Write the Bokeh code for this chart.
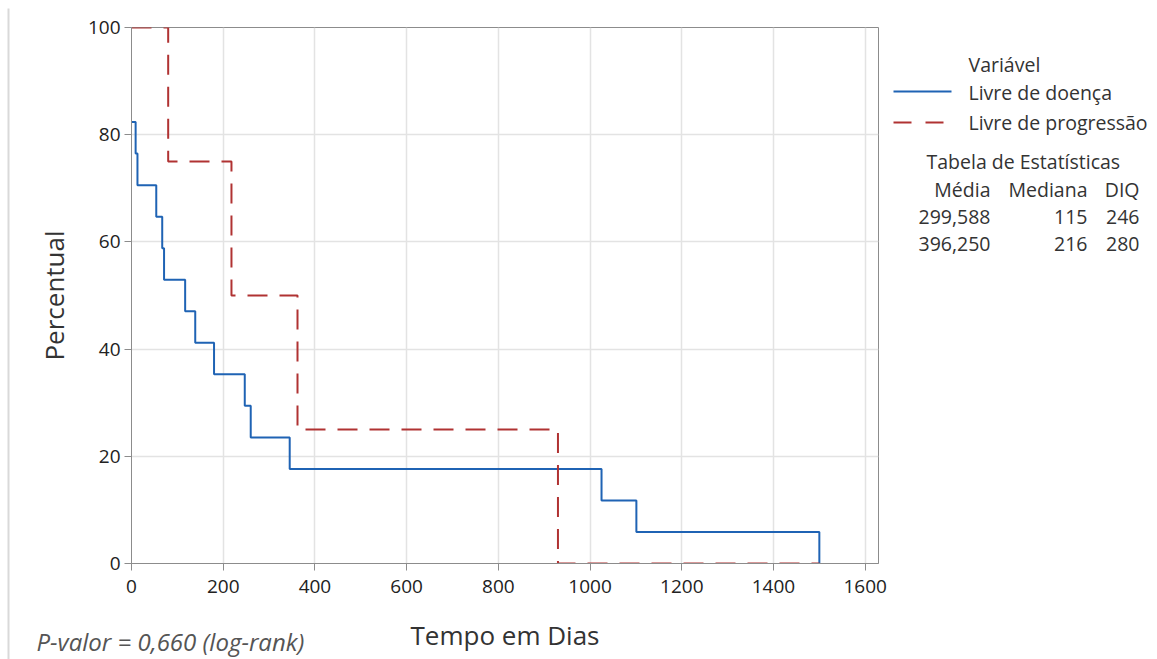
from bokeh.plotting import figure
from bokeh.models import Range1d, FixedTicker, Label
from bokeh.layouts import row, column
from bokeh.embed import file_html
from bokeh.resources import INLINE

# ---- data ----
dfs_days = [0, 9, 13, 54, 67, 71, 117, 139, 180, 247, 260, 345, 1025, 1101, 1500]
dfs_pct = [82.35, 76.47, 70.59, 64.71, 58.82, 52.94, 47.06, 41.18, 35.29, 29.41, 23.53, 17.65, 11.76, 5.88, 0.0]
pfs_days = [0, 80, 218, 362, 930, 1500]
pfs_pct = [100.0, 75.0, 50.0, 25.0, 0.0, 0.0]
series_names = ["Livre de doença", "Livre de progressão"]
legend_title = "Variável"
x_ticks = [0, 200, 400, 600, 800, 1000, 1200, 1400, 1600]
y_ticks = [0, 20, 40, 60, 80, 100]
table_title = "Tabela de Estatísticas"
stat_headers = ["Média", "Mediana", "DIQ"]
stat_rows = [["299,588", "115", "246"], ["396,250", "216", "280"]]
x_label = "Tempo em Dias"
y_label = "Percentual"
p_value_text = "P-valor = 0,660 (log-rank)"

FONT = "Open Sans"
TXT = "#333333"
BLUE = "#1f63b4"
RED = "#b03232"
RED_DASH = "20 12"

W, H = 1157, 659
STRIP_W = 10            # left strip with the thin border line
MAIN_W = 882            # main chart canvas (x 10 .. 892)
MAIN_H = 612
RIGHT_W = W - STRIP_W - MAIN_W
BOTTOM_H = H - MAIN_H
FL, FR, FT, FB = 131, 878, 27, 563   # frame edges in window pixels
XMAX = 1629


def helper_fig(w, h, x0, x1, y0, y1):
    f = figure(width=w, height=h, output_backend="svg", toolbar_location=None,
               x_range=Range1d(x0, x1), y_range=Range1d(y1, y0),
               x_axis_location=None, y_axis_location=None, frame_align=False)
    f.min_border = 0
    f.min_border_left = 0
    f.min_border_right = 0
    f.min_border_top = 0
    f.min_border_bottom = 0
    f.outline_line_color = None
    f.grid.visible = False
    f.background_fill_color = "white"
    f.border_fill_color = "white"
    return f


# ---------------- main chart ----------------
p = figure(width=MAIN_W, height=MAIN_H, output_backend="svg", toolbar_location=None,
           x_range=Range1d(0, XMAX), y_range=Range1d(0, 100), frame_align=False)
p.min_border = 0
p.min_border_left = FL - STRIP_W
p.min_border_right = STRIP_W + MAIN_W - FR
p.min_border_top = FT
p.min_border_bottom = MAIN_H - FB
p.background_fill_color = "white"
p.border_fill_color = "white"
p.outline_line_color = "#8c8c8c"
p.outline_line_width = 1

for ax in (p.xaxis[0], p.yaxis[0]):
    ax.axis_line_color = "#8c8c8c"
    ax.major_tick_line_color = "#8c8c8c"
    ax.major_tick_out = 7
    ax.major_tick_in = 0
    ax.minor_tick_line_color = None
    ax.major_label_text_font = FONT
    ax.major_label_text_font_size = "19px"
    ax.major_label_text_color = "#222222"
    ax.axis_label_text_font = FONT
    ax.axis_label_text_font_style = "normal"
    ax.axis_label_text_font_size = "26px"
    ax.axis_label_text_color = TXT

p.xaxis[0].ticker = FixedTicker(ticks=x_ticks)
p.yaxis[0].ticker = FixedTicker(ticks=y_ticks)
p.yaxis[0].axis_label = y_label
p.xaxis[0].major_label_standoff = 9
p.yaxis[0].major_label_standoff = 4
p.yaxis[0].axis_label_standoff = 13

p.xgrid[0].ticker = FixedTicker(ticks=x_ticks)
p.ygrid[0].ticker = FixedTicker(ticks=y_ticks)
p.grid.grid_line_color = "#e3e3e3"
p.grid.grid_line_width = 1.5

p.step(dfs_days, dfs_pct, mode="after", line_color=BLUE, line_width=2)
p.step(pfs_days, pfs_pct, mode="after", line_color=RED, line_width=2, line_dash=RED_DASH)

# ---------------- bottom strip: x-axis title and p-value ----------------
b = helper_fig(MAIN_W, BOTTOM_H, STRIP_W, STRIP_W + MAIN_W, MAIN_H, H)
b.add_layout(Label(x=(FL + FR) / 2, y=634, text=x_label, text_align="center",
                   text_baseline="middle", text_font=FONT, text_font_size="26px",
                   text_color=TXT))
b.add_layout(Label(x=36, y=641, text=p_value_text, text_align="left",
                   text_baseline="middle", text_font=FONT, text_font_size="24px",
                   text_font_style="italic", text_color="#555555"))

# ---------------- left strip: thin frame line ----------------
s = helper_fig(STRIP_W, H, 0, STRIP_W, 0, H)
s.line([8, 8], [8, H], line_color="#d9d9d9", line_width=2)

# ---------------- right side: legend and statistics table ----------------
r = helper_fig(RIGHT_W, H, STRIP_W + MAIN_W, W, 0, H)


def lab(px, py, text, align="left"):
    r.add_layout(Label(x=px, y=py, text=text, text_align=align, text_baseline="middle",
                       text_font=FONT, text_font_size="19.5px", text_color=TXT))


lab(968, 64, legend_title)
r.line([893, 951], [91, 91], line_color=BLUE, line_width=2)
r.line([893, 951], [122, 122], line_color=RED, line_width=2, line_dash="18 14")
lab(968, 92, series_names[0])
lab(968, 122, series_names[1])

lab(926, 161, table_title)
col_right = [990, 1087, 1139]
for txt, xr in zip(stat_headers, col_right):
    lab(xr, 189, txt, align="right")
for rowvals, yy in zip(stat_rows, [216, 243]):
    for txt, xr in zip(rowvals, col_right):
        lab(xr, yy, txt, align="right")

layout = row(s, column(p, b), r)
open("out.html", "w").write(file_html(layout, INLINE))
